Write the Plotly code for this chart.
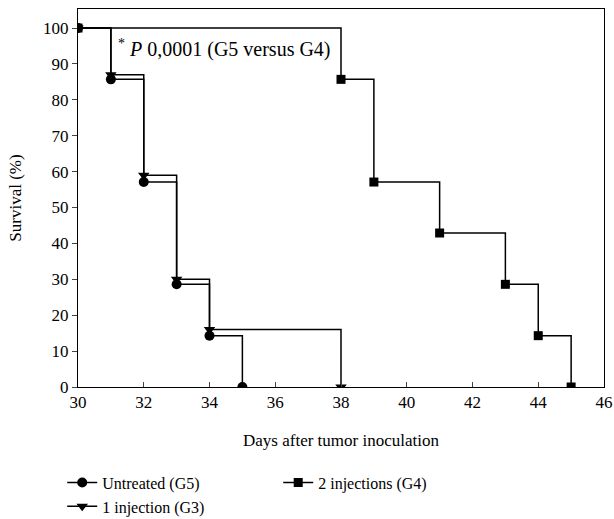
import plotly.graph_objects as go

days_g5 = [30, 31, 32, 33, 34, 35]
surv_g5 = [100, 85.7, 57.1, 28.6, 14.3, 0]
days_g3 = [30, 31, 32, 33, 34, 38]
surv_g3 = [100, 87, 59, 30, 16, 0]
days_g4 = [30, 38, 39, 41, 43, 44, 45]
surv_g4 = [100, 85.7, 57.1, 42.9, 28.6, 14.3, 0]

x_ticks = [30, 32, 34, 36, 38, 40, 42, 44, 46]
y_ticks = [0, 10, 20, 30, 40, 50, 60, 70, 80, 90, 100]

FONT = "Liberation Serif"

fig = go.Figure()
fig.add_trace(go.Scatter(x=days_g5, y=surv_g5, name="Untreated (G5)", mode="lines+markers",
                         line=dict(shape="hv", color="black", width=1.5),
                         marker=dict(symbol="circle", size=10, color="black"), legendrank=1))
fig.add_trace(go.Scatter(x=days_g4, y=surv_g4, name="2 injections (G4)", mode="lines+markers",
                         line=dict(shape="hv", color="black", width=1.5),
                         marker=dict(symbol="square", size=9, color="black"), legendrank=2))
fig.add_trace(go.Scatter(x=days_g3, y=surv_g3, name="1 injection (G3)", mode="lines+markers",
                         line=dict(shape="hv", color="black", width=1.5),
                         marker=dict(symbol="triangle-down", size=10, color="black"), legendrank=3))

fig.add_annotation(x=31.15, y=94.4, xref="x", yref="y", xanchor="left", yanchor="middle",
                   text="<sup>*</sup> <i>P</i> 0,0001 (G5 versus G4)", showarrow=False,
                   font=dict(family=FONT, size=20, color="black"))

fig.update_layout(
    width=614, height=519,
    margin=dict(l=78, r=10, t=9, b=132, autoexpand=False),
    paper_bgcolor="white", plot_bgcolor="white",
    font=dict(family=FONT, size=17, color="black"),
    showlegend=True,
    legend=dict(orientation="h", x=-0.03, y=-0.208, xanchor="left", yanchor="top",
                entrywidth=171, entrywidthmode="pixels",
                font=dict(family=FONT, size=16, color="black"),
                traceorder="normal", tracegroupgap=0, itemwidth=30),
    xaxis=dict(range=[30, 46], tickvals=x_ticks, ticks="inside", ticklen=5,
               showline=True, linecolor="black", linewidth=1, mirror=True,
               showgrid=False, zeroline=False, automargin=False,
               title=dict(text="Days after tumor inoculation", standoff=22,
                          font=dict(family=FONT, size=17, color="black")),
               tickfont=dict(family=FONT, size=17, color="black")),
    yaxis=dict(range=[0, 105.3], tickvals=y_ticks, ticks="outside", ticklen=5,
               showline=True, linecolor="black", linewidth=1, mirror=True,
               showgrid=False, zeroline=False, automargin=False,
               title=dict(text="Survival (%)", standoff=17,
                          font=dict(family=FONT, size=17, color="black")),
               tickfont=dict(family=FONT, size=17, color="black")),
)

fig.write_html("out.html", config={"displayModeBar": False},
               post_script="document.body.style.margin='0';")
